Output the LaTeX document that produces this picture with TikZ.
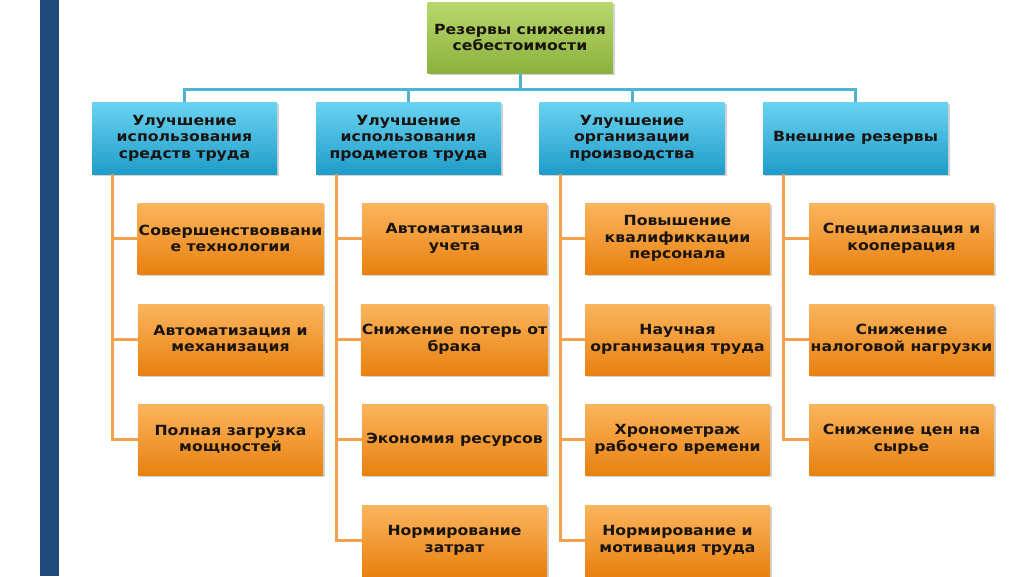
\documentclass[tikz,border=0pt]{standalone}
\usepackage{fontspec}
\setmainfont[FakeStretch=1.12]{DejaVu Sans}
\usepackage{xcolor}
\usetikzlibrary{positioning}
\usetikzlibrary{shadows}
\definecolor{barblue}{HTML}{1F4A7C}
\definecolor{greentop}{HTML}{B8D86E}
\definecolor{greenbot}{HTML}{8CB13C}
\definecolor{bluetop}{HTML}{6AD3F2}
\definecolor{bluebot}{HTML}{1F9CC9}
\definecolor{orangetop}{HTML}{FBB55E}
\definecolor{orangebot}{HTML}{E8810F}
\definecolor{linkblue}{HTML}{4FB3D2}
\definecolor{linkorange}{HTML}{F5A04E}
\definecolor{textdark}{HTML}{1A1410}
\tikzset{
  box/.style={minimum width=185pt,minimum height=71pt,inner sep=1pt,align=center,
    font=\fontsize{14}{16.5}\selectfont\bfseries,text=textdark,
    drop shadow={shadow xshift=2pt,shadow yshift=-2pt,opacity=.35}},
  rootbox/.style={box,top color=greentop,bottom color=greenbot},
  headbox/.style={box,minimum height=72pt,top color=bluetop,bottom color=bluebot},
  itembox/.style={box,top color=orangetop,bottom color=orangebot},
  buslink/.style={draw=linkblue,line width=3pt},
  itemlink/.style={draw=linkorange,line width=3pt}
}

\begin{document}
\begin{tikzpicture}[x=1pt,y=-1pt]
  \useasboundingbox (0,0) rectangle (1024,576);
  \fill[barblue] (40,0) rectangle (59,576);

  \node[rootbox] (root) at (520,37.5) {Резервы снижения\\себестоимости};

  \node[headbox] (u1) at (184.5,138) {Улучшение\\использования\\средств труда};
  \node[headbox] (u2) at (408.5,138) {Улучшение\\использования\\продметов труда};
  \node[headbox] (u3) at (632,138) {Улучшение\\организации\\производства};
  \node[headbox] (u4) at (855.5,138) {Внешние резервы};

  \node[itembox] (r-1-1) at (230.5,238.5) {Совершенствоввани\\е технологии};
  \node[itembox] (r-1-2) at (230.5,339.5) {Автоматизация и\\механизация};
  \node[itembox] (r-1-3) at (230.5,439.5) {Полная загрузка\\мощностей};

  \node[itembox] (r-2-1) at (454.5,238.5) {Автоматизация\\учета};
  \node[itembox] (r-2-2) at (454.5,339.5) {Снижение потерь от\\брака};
  \node[itembox] (r-2-3) at (454.5,439.5) {Экономия ресурсов};
  \node[itembox] (r-2-4) at (454.5,540.5) {Нормирование\\затрат};

  \node[itembox] (r-3-1) at (677.5,238.5) {Повышение\\квалификкации\\персонала};
  \node[itembox] (r-3-2) at (677.5,339.5) {Научная\\организация труда};
  \node[itembox] (r-3-3) at (677.5,439.5) {Хронометраж\\рабочего времени};
  \node[itembox] (r-3-4) at (677.5,540.5) {Нормирование и\\мотивация труда};

  \node[itembox] (r-4-1) at (901.5,238.5) {Специализация и\\кооперация};
  \node[itembox] (r-4-2) at (901.5,339.5) {Снижение\\налоговой нагрузки};
  \node[itembox] (r-4-3) at (901.5,439.5) {Снижение цен на\\сырье};

  \coordinate (bus) at (520,89);
  \path[buslink] (root.south) -- (bus)
    (u1.north) |- (bus) (u2.north) |- (bus)
    (u3.north) |- (bus) (u4.north) |- (bus);
  \path[itemlink]
    ([xshift=21pt]u1.south west) |- (r-1-1.west)
    ([xshift=21pt]u1.south west) |- (r-1-2.west)
    ([xshift=21pt]u1.south west) |- (r-1-3.west)
    ([xshift=21pt]u2.south west) |- (r-2-1.west)
    ([xshift=21pt]u2.south west) |- (r-2-2.west)
    ([xshift=21pt]u2.south west) |- (r-2-3.west)
    ([xshift=21pt]u2.south west) |- (r-2-4.west)
    ([xshift=21pt]u3.south west) |- (r-3-1.west)
    ([xshift=21pt]u3.south west) |- (r-3-2.west)
    ([xshift=21pt]u3.south west) |- (r-3-3.west)
    ([xshift=21pt]u3.south west) |- (r-3-4.west)
    ([xshift=21pt]u4.south west) |- (r-4-1.west)
    ([xshift=21pt]u4.south west) |- (r-4-2.west)
    ([xshift=21pt]u4.south west) |- (r-4-3.west);
\end{tikzpicture}
\end{document}
